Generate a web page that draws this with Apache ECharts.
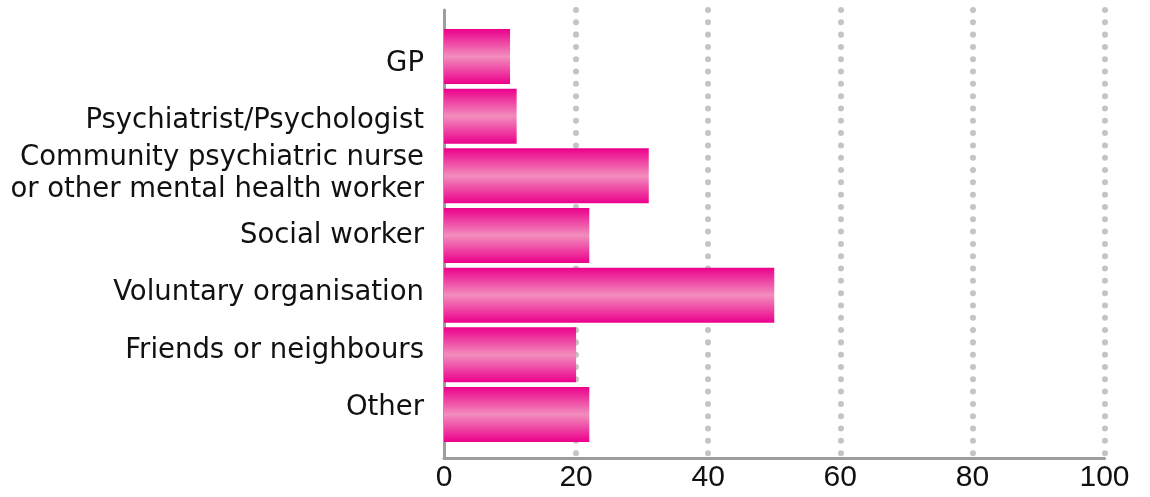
<!DOCTYPE html>
<html>
<head>
<meta charset="utf-8">
<script src="https://cdn.jsdelivr.net/npm/echarts@6/dist/echarts.min.js"></script>
<style>
  html, body { margin: 0; padding: 0; background: #fff; }
  #chart { width: 1150px; height: 497px; }
</style>
</head>
<body>
<div id="chart"></div>
<script>
// Sources of help (percent of respondents)
const categories = [
  'GP',
  'Psychiatrist/Psychologist',
  'Community psychiatric nurse\nor other mental health worker',
  'Social worker',
  'Voluntary organisation',
  'Friends or neighbours',
  'Other'
];
const values = [10, 11, 31, 22, 50, 20, 22];
const xTicks = [0, 20, 40, 60, 80, 100];

const LABEL_FONT = '"DejaVu Sans", "Liberation Sans", sans-serif';
const TICK_FONT = '"Liberation Sans", Arial, sans-serif';
const AXIS_GREY = '#9d9d9d';
const DOT_GREY = '#c4c4c4';

const chart = echarts.init(document.getElementById('chart'), null, { renderer: 'canvas' });

const barFill = new echarts.graphic.LinearGradient(0, 0, 0, 1, [
  { offset: 0, color: '#ec008c' },
  { offset: 0.5, color: '#f28dbd' },
  { offset: 1, color: '#ec008c' }
]);

// two-line label: extra room under the second line lifts the block slightly
function categoryLabel(name) {
  const lines = name.split('\n');
  if (lines.length > 1) {
    return lines.map((l, i) => (i === lines.length - 1 ? '{m2|' : '{m|') + l + '}').join('\n');
  }
  return '{s|' + name + '}';
}

const SHARED_X = { left: 444, right: 45.5, containLabel: false };

chart.setOption({
  animation: false,
  backgroundColor: '#ffffff',
  grid: [
    // bars
    Object.assign({ top: 26.7, bottom: 52.7 }, SHARED_X),
    // frame: axis lines, dotted gridlines, tick labels
    Object.assign({ top: 10, bottom: 39 }, SHARED_X),
    // category labels, on a slightly tighter band than the bars
    Object.assign({ top: 35.3, bottom: 60.3 }, SHARED_X)
  ],
  xAxis: [
    {
      gridIndex: 0, type: 'value', min: xTicks[0], max: xTicks[xTicks.length - 1],
      interval: 20, show: false
    },
    {
      gridIndex: 1, type: 'value', min: xTicks[0], max: xTicks[xTicks.length - 1],
      interval: 20,
      axisLine: { show: true, lineStyle: { color: AXIS_GREY, width: 3 } },
      axisTick: { show: false },
      axisLabel: {
        color: '#111', fontSize: 30, fontFamily: TICK_FONT, margin: 5,
        formatter: v => (xTicks.indexOf(v) >= 0 ? String(v) : '')
      },
      splitLine: {
        show: true, showMinLine: false,
        lineStyle: { color: DOT_GREY, width: 6, type: [0.01, 12.3], cap: 'round' }
      }
    },
    {
      gridIndex: 2, type: 'value', min: xTicks[0], max: xTicks[xTicks.length - 1],
      interval: 20, show: false
    }
  ],
  yAxis: [
    {
      gridIndex: 0, type: 'category', data: categories, inverse: true,
      axisLine: { show: false }, axisTick: { show: false }, axisLabel: { show: false },
      splitLine: { show: false }
    },
    {
      gridIndex: 1, type: 'value', min: 0, max: 1,
      axisLine: { show: true, onZero: false, lineStyle: { color: AXIS_GREY, width: 3 } },
      axisTick: { show: false }, axisLabel: { show: false }, splitLine: { show: false }
    },
    {
      gridIndex: 2, type: 'category', data: categories, inverse: true,
      axisLine: { show: false }, axisTick: { show: false },
      axisLabel: {
        color: '#111', fontFamily: LABEL_FONT, margin: 20, align: 'right',
        formatter: categoryLabel,
        rich: {
          s: { fontSize: 27.5, fontFamily: LABEL_FONT, color: '#111' },
          m: { fontSize: 27.5, fontFamily: LABEL_FONT, color: '#111', lineHeight: 32 },
          m2: { fontSize: 27.5, fontFamily: LABEL_FONT, color: '#111', lineHeight: 42, padding: [0, 0, 10, 0] }
        }
      },
      splitLine: { show: false }
    }
  ],
  series: [
    {
      type: 'bar', xAxisIndex: 0, yAxisIndex: 0, data: values,
      barWidth: 55,
      itemStyle: { color: barFill },
      z: 3
    }
  ]
});
</script>
</body>
</html>
